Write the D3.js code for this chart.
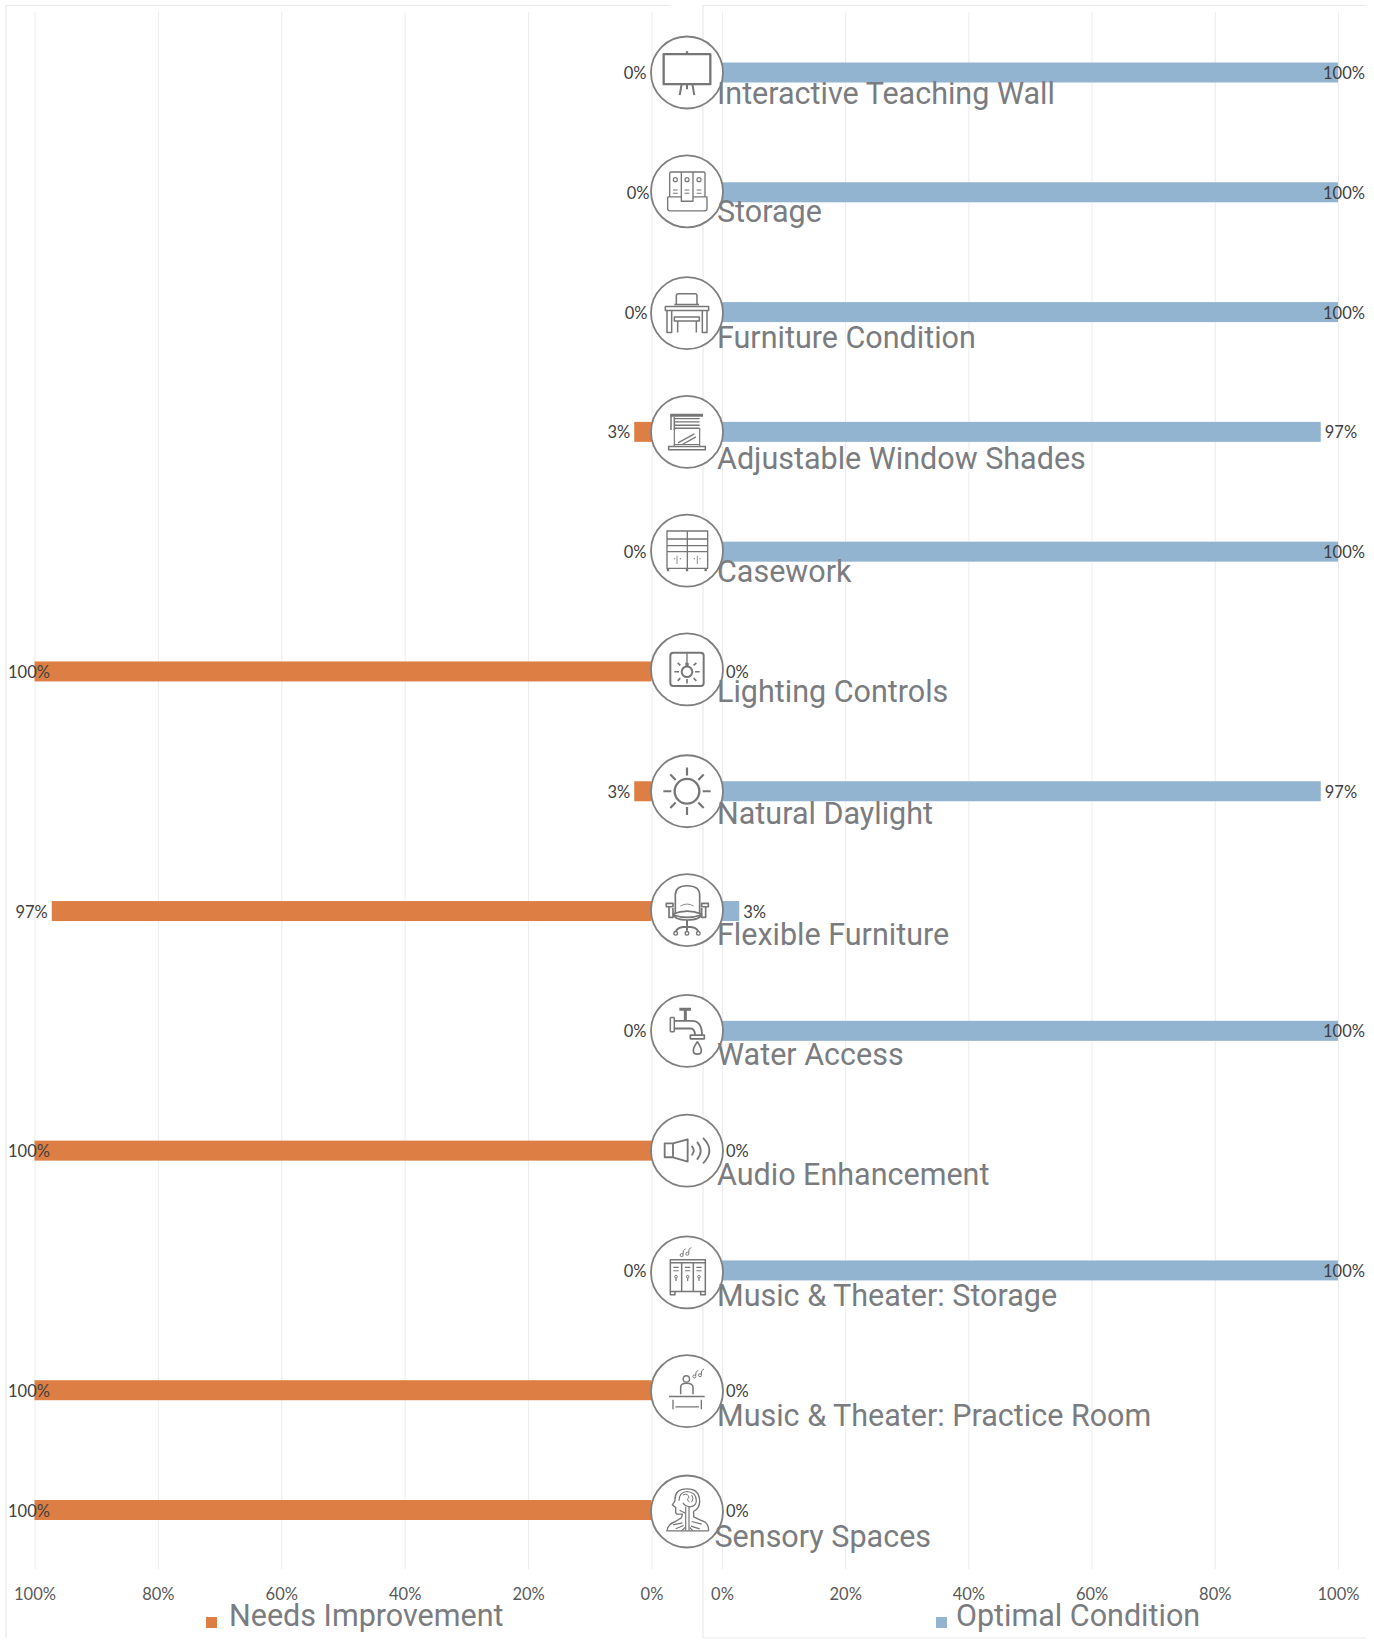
<!DOCTYPE html>
<meta charset="utf-8">
<style>
  body { margin: 0; background: #fff; }
  svg { display: block; }
</style>

<!-- Load d3.js -->
<script src="https://d3js.org/d3.v7.min.js"></script>

<div id="my_dataviz"></div>
<script>

    // chart values
    const categories = ["Interactive Teaching Wall", "Storage", "Furniture Condition",
      "Adjustable Window Shades", "Casework", "Lighting Controls", "Natural Daylight",
      "Flexible Furniture", "Water Access", "Audio Enhancement", "Music & Theater: Storage",
      "Music & Theater: Practice Room", "Sensory Spaces"];
    const needsImprovement = [0, 0, 0, 2.8, 0, 100, 2.8, 97.2, 0, 100, 0, 100, 100];
    const optimalCondition = [100, 100, 100, 97.2, 100, 0, 97.2, 2.8, 100, 0, 100, 0, 0];
    const tickValues = [0, 20, 40, 60, 80, 100];
    const seriesNames = ["Needs Improvement", "Optimal Condition"];

    // small hand placement of the pasted circles and text boxes, row by row
    const circleNudge = [0, -1, 1, 0, -1, -2, 0, -1, 0, 0, 2, 1, 1.5];
    const labelNudge = [31, 29.7, 35.5, 37.6, 30.6, 31, 33, 34, 34.3, 34.5, 35.7, 35.9, 37];
    const zeroLabelNudge = [0, 3, 1, 0, 0, 0, 0, 0, 0, 0, 0, 0, 0];

    const orange = "#dd7f45", blue = "#92b4d1", grid = "#ececec", iconColor = "#767676";

    const svg = d3.select("#my_dataviz")
      .append("svg")
        .attr("width", 1374)
        .attr("height", 1651);

    const xL = d3.scaleLinear().domain([0, 100]).range([651.5, 34.5]);
    const xR = d3.scaleLinear().domain([0, 100]).range([722, 1338]);
    const y = d3.scalePoint().domain(categories).range([72.5, 1510]);
    const rows = categories.map((c, i) => ({c: c, i: i, need: needsImprovement[i], opt: optimalCondition[i]}));

    // chart frames
    svg.append("path")
      .attr("d", "M6,1638V5.5H670M703,1638H1366M703,1638V5.5H1366")
      .attr("fill", "none").attr("stroke", "#e9e9e9").attr("stroke-width", 1.2);

    // axes with their gridlines
    [xL, xR].forEach(function(x) {
      const g = svg.append("g")
        .attr("transform", "translate(0,1569)")
        .call(d3.axisBottom(x).tickValues(tickValues).tickFormat(d => d + "%").tickSize(-1557).tickPadding(19.5));
      g.select(".domain").remove();
      g.selectAll(".tick line").attr("stroke", grid);
      g.selectAll(".tick text")
        .attr("fill", "#595959")
        .style("font-family", "Lato, Carlito, sans-serif")
        .style("font-size", "16.5px");
    });

    // bars
    svg.selectAll("rect.need").data(rows).join("rect")
      .attr("class", "need")
      .attr("x", d => xL(d.need)).attr("width", d => xL(0) - xL(d.need))
      .attr("y", d => y(d.c) - 10).attr("height", 20)
      .attr("fill", orange);
    svg.selectAll("rect.opt").data(rows).join("rect")
      .attr("class", "opt")
      .attr("x", xR(0)).attr("width", d => xR(d.opt) - xR(0))
      .attr("y", d => y(d.c) - 10).attr("height", 20)
      .attr("fill", blue);

    // icons are drawn in 3x units around the circle centre
    const icons = [
      g => { // teaching wall
        line(g, "M-70,-55H70V35H-70ZM0,-55V-64", 7);
        line(g, "M-16,35L-22,68M16,35L22,68M0,35V50", 6);
      },
      g => { // binders in a tray
        line(g, "M-52,17V-54Q-52,-58 -48,-58H-17V30H18V-58H50Q54,-58 54,-54V17M-17,-58H18", 4);
        line(g, "M-58,17V52Q-58,59 -51,59H53Q60,59 60,52V17H18M-17,17H-58", 4);
        [-35, 0, 36].forEach(x => {
          ring(g, x, -35, 6, 3.5);
          line(g, `M${x - 7},-4H${x + 7}M${x - 7},6H${x + 7}`, 3.5);
        });
      },
      g => { // desk and chair
        line(g, "M-32,-26V-52Q-32,-58 -26,-58H24Q30,-58 30,-52V-26", 4.5);
        line(g, "M-65,-20H65V-8H-65ZM-38,-26H36", 4.5);
        line(g, "M-60,-8V58H-46V-8M46,-8V58H60V-8", 4.5);
        line(g, "M-38,12H37V24H-38ZM-28,24V58M28,24V58", 4.5);
      },
      g => { // window shade
        line(g, "M-50,-50H48", 9);
        line(g, "M-38,-40H38M-38,-30H38M-38,-20H38M-38,-11H38", 4);
        line(g, "M-48,-50V-6M-38,-45V-6", 4.5);
        line(g, "M-38,-11V44M38,-11V44M-27,33L22,6M-14,38L27,15M-38,38H38", 3.5);
        line(g, "M-55,44H55V54H-55Z", 4.5);
      },
      g => { // casework
        line(g, "M-60,-59H62V53H-60ZM1,-59V53M-60,-35H62M-60,-15H62M-60,3H62", 4);
        line(g, "M-30,15V40M31,15V40", 2.5);
        line(g, "M-57,53V62M0,53V62M56,53V62", 7);
        [-37, -20, 22, 39].forEach(x => {
          g.append("circle").attr("cx", x).attr("cy", 24).attr("r", 2).attr("fill", iconColor);
        });
      },
      g => { // lighting controls
        g.append("rect").attr("x", -50).attr("y", -50).attr("width", 100).attr("height", 100).attr("rx", 9)
          .attr("fill", "none").attr("stroke", iconColor).attr("stroke-width", 6);
        ring(g, 0, 7, 16, 6);
        line(g, "M0,-50V-9", 4);
        line(g, "M0,-20V-10", 10);
        line(g, "M-38,7H-24M24,7H38M0,29V42M-28,-20L-20,-12M28,-20L20,-12M-28,34L-20,26M28,34L20,26", 5);
      },
      g => { // sun
        ring(g, 0, 0, 37, 7);
        line(g, "M0,-71V-47M0,47V71M-71,0H-47M47,0H71M-50,-50L-34,-34M50,-50L34,-34M-50,50L-34,34M50,50L34,34", 6.5);
      },
      g => { // office chair
        line(g, "M-35,10V-45Q-35,-73 0,-73Q38,-73 38,-45V10", 5);
        line(g, "M-20,-12Q0,-24 20,-12", 2.5);
        line(g, "M-42,12Q0,-6 44,12Q40,30 0,30Q-38,30 -42,12ZM-42,14Q0,30 44,14", 5);
        line(g, "M-62,-20H-42V-10H-62ZM44,-20H64V-10H44ZM-54,-10V22H-42V-6M56,-10V22H44V-6", 5);
        line(g, "M0,30V55M-34,64Q-28,50 0,50Q28,50 34,64M0,50V62", 6);
        [-34, 0, 34].forEach(x => ring(g, x, 70, 5.5, 4));
      },
      g => { // water tap
        line(g, "M-23,-65H12M-5,-65V-32", 9);
        line(g, "M-50,-40V3M-38,-40V3M-50,-40H-38M-50,3H-38", 4.5);
        line(g, "M-38,-30H15Q45,-30 45,13M-38,-7H10Q24,-7 24,13", 5.5);
        line(g, "M10,13H52V24H10Z", 5);
        line(g, "M31,33Q19,50 19,60Q19,70 31,70Q43,70 43,60Q43,50 31,33Z", 5);
      },
      g => { // speaker
        line(g, "M-67,-22H-42V20H-67ZM-42,-22L2,-34V33L-42,20", 5.5);
        line(g, "M14,-14Q26,0 14,14M30,-26Q52,0 30,27M48,-38Q86,0 48,38", 5.5);
      },
      g => { // lockers with notes
        line(g, "M-50,-38H55V57H-50ZM-50,-29H55M-16,-29V57M19,-29V57", 4.5);
        line(g, "M-41,-15H-25M-41,-5H-25M-6,-15H10M-6,-5H10M28,-15H44M28,-5H44", 3.5);
        line(g, "M-33,17V26M2,17V26M36,17V26", 3.5);
        [-33, 2, 36].forEach(x => ring(g, x, 13, 4, 3));
        line(g, "M-50,57V67H-36V57M41,57V67H55V57", 4.5);
        notes(g, -16, -52);
      },
      g => { // practice room
        ring(g, -2, -37, 9.5, 4);
        line(g, "M-19,9V-12Q-19,-24 -2,-24Q18,-24 18,-12V9", 4.5);
        line(g, "M-54,16H53", 4.5);
        line(g, "M-42,26V54M43,26V54M-35,47H36", 4);
        notes(g, 22, -44);
      },
      g => { // head with nervous system
        line(g, "M-62,58H65M-60,58Q-58,38 -35,30L-18,20Q-14,14 -14,8L-28,8Q-34,8 -34,0V-12L-44,-20L-36,-32Q-38,-68 0,-68Q38,-68 38,-30Q38,-10 20,0V16Q40,26 55,32Q65,40 65,58", 4);
        line(g, "M-24,-32Q-24,-58 0,-60Q28,-58 28,-32Q28,-16 10,-14Q-8,-16 -12,-26", 3.5);
        line(g, "M-12,-50Q4,-56 6,-42Q-4,-36 8,-28M14,-50Q22,-40 14,-28", 3);
        line(g, "M-4,-14V58M6,-14V58", 3.5);
        line(g, "M-42,40L-14,34M-34,52L-10,42M44,38L14,30M38,52L12,44M-16,58L-6,48M18,58L8,48M-22,-4L-4,6", 3.5);
      }
    ];

    function line(g, d, w) {
      g.append("path").attr("d", d).attr("fill", "none")
        .attr("stroke", iconColor).attr("stroke-width", w)
        .attr("stroke-linejoin", "round").attr("stroke-linecap", "butt");
    }

    function ring(g, x, y, r, w) {
      g.append("circle").attr("cx", x).attr("cy", y).attr("r", r)
        .attr("fill", "none").attr("stroke", iconColor).attr("stroke-width", w);
    }

    // two small curly notes
    function notes(g, x, y) {
      [[0, 0], [17, -4]].forEach(p => {
        ring(g, x + p[0], y + p[1], 4.5, 3);
        line(g, `M${x + p[0] + 4},${y + p[1] - 2}Q${x + p[0] + 2},${y + p[1] - 16} ${x + p[0] + 12},${y + p[1] - 19}`, 3);
      });
    }

    // circles with icons
    rows.forEach(function(d) {
      const cy = y(d.c) + circleNudge[d.i];
      svg.append("circle")
        .attr("cx", 687).attr("cy", cy).attr("r", 36)
        .attr("fill", "#fff").attr("stroke", "#7f7f7f").attr("stroke-width", 1.8);
      const g = svg.append("g").attr("transform", `translate(687,${cy}) scale(0.3333)`);
      icons[d.i](g);
    });

    // value labels
    const valueFont = "Lato, Carlito, sans-serif";
    const pct = d => Math.round(d) + "%";
    svg.selectAll("text.needLabel").data(rows).join("text")
      .attr("class", "needLabel")
      .attr("x", d => d.need == 100 ? xL(100) - 5.5 : d.need == 0 ? xL(0) - 5 + zeroLabelNudge[d.i] : xL(d.need) - 4)
      .attr("y", d => y(d.c) + 6.5)
      .attr("text-anchor", d => d.need == 100 ? "middle" : "end")
      .attr("fill", "#404040")
      .style("font-family", valueFont).style("font-size", "16.5px")
      .text(d => pct(d.need));
    svg.selectAll("text.optLabel").data(rows).join("text")
      .attr("class", "optLabel")
      .attr("x", d => d.opt == 100 ? xR(100) + 6 : d.opt == 0 ? xR(0) + 4 : xR(d.opt) + 4)
      .attr("y", d => y(d.c) + 6.5)
      .attr("text-anchor", d => d.opt == 100 ? "middle" : "start")
      .attr("fill", "#404040")
      .style("font-family", valueFont).style("font-size", "16.5px")
      .text(d => pct(d.opt));

    // category labels
    svg.selectAll("text.cat").data(rows).join("text")
      .attr("class", "cat")
      .attr("x", d => d.i == 12 ? 714.5 : 717)
      .attr("y", d => y(d.c) + labelNudge[d.i])
      .attr("fill", "#7a7c80")
      .style("font-family", "Roboto, sans-serif").style("font-size", "30.5px")
      .text(d => d.c);

    // legend
    const legendX = d3.scaleOrdinal().domain(seriesNames).range([206, 936]);
    const legendColor = d3.scaleOrdinal().domain(seriesNames).range([orange, blue]);
    svg.selectAll("rect.legend").data(seriesNames).join("rect")
      .attr("class", "legend")
      .attr("x", d => legendX(d)).attr("y", 1617)
      .attr("width", 11).attr("height", 11)
      .attr("fill", d => legendColor(d));
    svg.selectAll("text.legend").data(seriesNames).join("text")
      .attr("class", "legend")
      .attr("x", d => legendX(d) + (d == seriesNames[0] ? 23 : 20)).attr("y", 1626)
      .attr("fill", "#7a7c80")
      .style("font-family", "Roboto, sans-serif").style("font-size", "30.5px")
      .text(d => d);

</script>
